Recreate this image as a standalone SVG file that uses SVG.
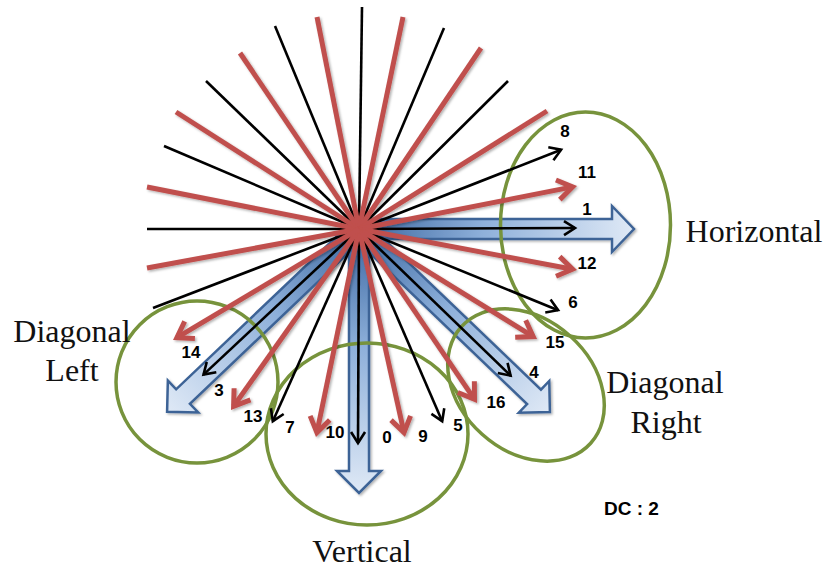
<svg xmlns="http://www.w3.org/2000/svg" width="828" height="570" viewBox="0 0 828 570">
<style>
.blk{stroke:#000;stroke-width:2.6;fill:none}
.red{stroke:#c0504d;stroke-width:5;fill:none}
.ba{marker-end:url(#mb)}
.ra{marker-end:url(#mr)}
.big{fill:url(#bg);stroke:#3d6396;stroke-width:2.5;stroke-linejoin:miter}
.ring{fill:none;stroke:#77933c;stroke-width:3.5}
.cap{font-family:"Liberation Serif","Times New Roman",serif;font-size:32px;fill:#111;text-anchor:middle}
.num{font-family:"Liberation Sans",Arial,sans-serif;font-weight:bold;font-size:17px;fill:#000;text-anchor:middle}
</style>
<defs>
<linearGradient id="bg" x1="0" y1="0" x2="1" y2="0">
<stop offset="0" stop-color="#3a66a0"/>
<stop offset="0.45" stop-color="#8eb0da"/>
<stop offset="1" stop-color="#dfe9f6"/>
</linearGradient>
<marker id="mb" markerUnits="userSpaceOnUse" markerWidth="1" markerHeight="1" refX="0" refY="0" orient="auto" overflow="visible">
<path d="M-11,-7 L0,0 L-11,7" fill="none" stroke="#000" stroke-width="2.6"/>
</marker>
<marker id="mr" markerUnits="userSpaceOnUse" markerWidth="1" markerHeight="1" refX="0" refY="0" orient="auto" overflow="visible">
<path d="M-15,-10 L0,0 L-15,10" fill="none" stroke="#c0504d" stroke-width="5"/>
</marker>
<filter id="sh" x="-10%" y="-10%" width="120%" height="120%">
<feDropShadow dx="1.5" dy="1.5" stdDeviation="1.2" flood-color="#000" flood-opacity="0.3"/>
</filter>
</defs>
<rect width="828" height="570" fill="#fff"/>

<g id="blue-arrows" filter="url(#sh)">
<path class="big" transform="translate(359,229)" d="M0,-10 H253 V-23 L275,0 L253,23 V10 H0 Z"/>
<path class="big" transform="translate(359,229) rotate(43.8)" d="M0,-10 H242.5 V-22 L264.5,0 L242.5,22 V10 H0 Z"/>
<path class="big" transform="translate(359,229) rotate(90)" d="M0,-10 H242 V-22 L264,0 L242,22 V10 H0 Z"/>
<path class="big" transform="translate(359,229) rotate(136.4)" d="M0,-10 H243 V-22 L265,0 L243,22 V10 H0 Z"/>
</g>

<g id="horizontal"><ellipse class="ring" cx="585.5" cy="225" rx="85" ry="113"/><text class="cap" x="754" y="242">Horizontal</text></g>
<g id="diagonal-left"><circle class="ring" cx="197" cy="382" r="81"/><text class="cap" x="72" y="342">Diagonal</text><text class="cap" x="72" y="381">Left</text></g>
<g id="vertical"><ellipse class="ring" cx="367" cy="434" rx="101" ry="91"/><text class="cap" x="362" y="562">Vertical</text></g>
<g id="diagonal-right"><ellipse class="ring" cx="526" cy="385" rx="87" ry="66" transform="rotate(42 526 385)"/><text class="cap" x="665" y="393">Diagonal</text><text class="cap" x="666" y="433">Right</text></g>

<g id="connectors">
<g id="black-rays">
<line class="blk" x1="359" y1="229" x2="147" y2="229"/>
<line class="blk" x1="359" y1="229" x2="153" y2="308"/>
<line class="blk" x1="359" y1="229" x2="164" y2="146"/>
<line class="blk" x1="359" y1="229" x2="206" y2="81"/>
<line class="blk" x1="359" y1="229" x2="275" y2="26"/>
<line class="blk" x1="359" y1="229" x2="362" y2="7"/>
<line class="blk" x1="359" y1="229" x2="444" y2="28"/>
<line class="blk" x1="359" y1="229" x2="508" y2="81"/>
<line class="blk ba" x1="359" y1="229" x2="561.1" y2="149.7"/>
<line class="blk ba" x1="359" y1="229" x2="575" y2="228"/>
<line class="blk ba" x1="359" y1="229" x2="558.1" y2="310.2"/>
<line class="blk ba" x1="359" y1="229" x2="510.6" y2="375.6"/>
<line class="blk ba" x1="359" y1="229" x2="442.2" y2="421.2"/>
<line class="blk ba" x1="359" y1="229" x2="358" y2="443"/>
<line class="blk ba" x1="359" y1="229" x2="272.8" y2="421.2"/>
<line class="blk ba" x1="359" y1="229" x2="203.5" y2="374.6"/>
</g>
<g id="red-rays" filter="url(#sh)">
<line class="red" x1="359" y1="229" x2="147" y2="268"/>
<line class="red" x1="359" y1="229" x2="147" y2="187"/>
<line class="red" x1="359" y1="229" x2="176" y2="112"/>
<line class="red" x1="359" y1="229" x2="240" y2="53"/>
<line class="red" x1="359" y1="229" x2="317" y2="17"/>
<line class="red" x1="359" y1="229" x2="403" y2="17"/>
<line class="red" x1="359" y1="229" x2="481" y2="48"/>
<line class="red" x1="359" y1="229" x2="547" y2="111"/>
<line class="red ra" x1="359" y1="229" x2="572.6" y2="186.9"/>
<line class="red ra" x1="359" y1="229" x2="572.6" y2="269.2"/>
<line class="red ra" x1="359" y1="229" x2="533.2" y2="336.6"/>
<line class="red ra" x1="359" y1="229" x2="474.5" y2="399.3"/>
<line class="red ra" x1="359" y1="229" x2="404" y2="432.6"/>
<line class="red ra" x1="359" y1="229" x2="316.9" y2="432.6"/>
<line class="red ra" x1="359" y1="229" x2="233.6" y2="406.3"/>
<line class="red ra" x1="359" y1="229" x2="176.9" y2="337.7"/>
</g>
</g>

<g id="labels">
<text class="num" x="565" y="137">8</text>
<text class="num" x="587" y="178">11</text>
<text class="num" x="587" y="215">1</text>
<text class="num" x="587" y="269">12</text>
<text class="num" x="573" y="308">6</text>
<text class="num" x="555" y="348">15</text>
<text class="num" x="534" y="378">4</text>
<text class="num" x="496" y="408">16</text>
<text class="num" x="458" y="431">5</text>
<text class="num" x="423" y="442">9</text>
<text class="num" x="387" y="443">0</text>
<text class="num" x="335" y="438">10</text>
<text class="num" x="290" y="433">7</text>
<text class="num" x="253" y="422">13</text>
<text class="num" x="219" y="396">3</text>
<text class="num" x="191" y="358">14</text>
<text x="604" y="515" font-family="Liberation Sans, Arial, sans-serif" font-weight="bold" font-size="19" fill="#000" xml:space="preserve">DC : 2</text>
</g>
</svg>
